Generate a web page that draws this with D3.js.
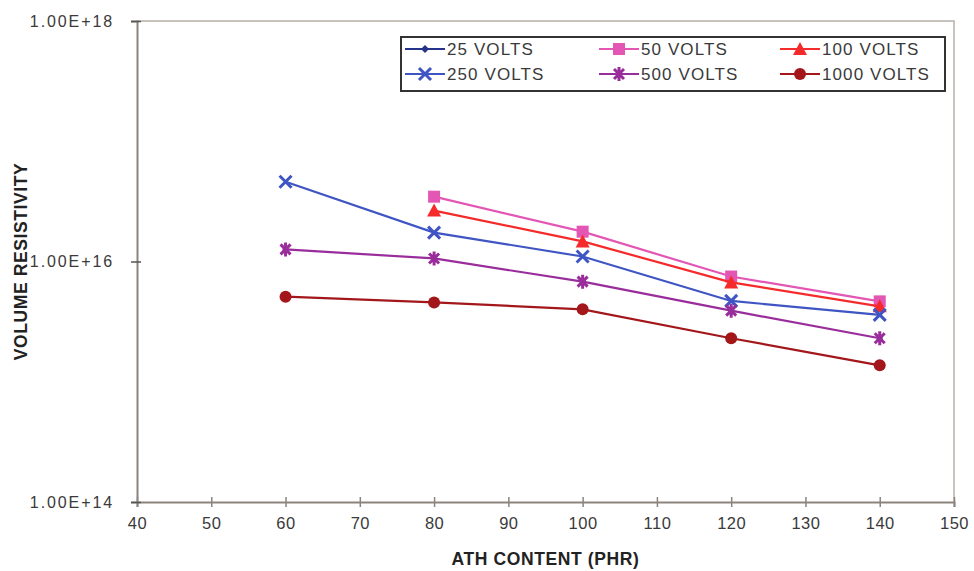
<!DOCTYPE html>
<html>
<head>
<meta charset="utf-8">
<script src="https://cdn.jsdelivr.net/npm/d3@7"></script>
<style>
  html, body { margin: 0; padding: 0; background: #fff; }
  svg { display: block; font-family: "Liberation Sans", Arial, sans-serif; }
</style>
</head>
<body>
<svg id="chart" width="974" height="571"></svg>
<script>
// ATH content (phr) on the x axis
const athContent = [60, 80, 100, 120, 140];

// Volume resistivity per test voltage (null = no reading)
const volts25   = [null, null, null, null, null];
const volts50   = [null, 3.46e16, 1.77e16, 7.5e15, 4.66e15];
const volts100  = [null, 2.65e16, 1.47e16, 6.7e15, 4.24e15];
const volts250  = [4.6e16, 1.74e16, 1.1e16, 4.7e15, 3.6e15];
const volts500  = [1.26e16, 1.06e16, 6.8e15, 3.9e15, 2.3e15];
const volts1000 = [5.1e15, 4.57e15, 4.0e15, 2.3e15, 1.37e15];

const seriesNames = ["25 VOLTS", "50 VOLTS", "100 VOLTS", "250 VOLTS", "500 VOLTS", "1000 VOLTS"];
const seriesColors = ["#26338a", "#e456b4", "#f52a2a", "#3f55c4", "#9a2d9c", "#a3171b"];
const seriesMarkers = ["diamond", "square", "triangle", "cross", "star", "circle"];
const seriesValues = [volts25, volts50, volts100, volts250, volts500, volts1000];

const xTicks = [40, 50, 60, 70, 80, 90, 100, 110, 120, 130, 140, 150];
const yTicks = [1e14, 1e16, 1e18];
const yTickLabels = ["1.00E+14", "1.00E+16", "1.00E+18"];

const svg = d3.select("#chart");
const plot = { left: 137, right: 954, top: 21, bottom: 502 };

const x = d3.scaleLinear().domain([40, 150]).range([plot.left, plot.right]);
const y = d3.scaleLog().domain([1e14, 1e18]).range([plot.bottom, plot.top]);

const axisColor = "#8c847c";
const textColor = "#3a3a3a";

// plot frame (top and right edges)
svg.append("path")
  .attr("d", `M${plot.left},${plot.top}H${plot.right}V${plot.bottom}`)
  .attr("fill", "none").attr("stroke", "#b8b0a8").attr("stroke-width", 1.5);

// x axis
const xAxis = svg.append("g")
  .attr("transform", `translate(0,${plot.bottom})`)
  .call(d3.axisBottom(x).tickValues(xTicks).tickSize(5).tickPadding(10).tickFormat(d3.format("d")));
xAxis.select(".domain").attr("stroke", axisColor).attr("stroke-width", 2);
xAxis.selectAll(".tick line").attr("stroke", axisColor).attr("stroke-width", 1.5).attr("y1", -5);
xAxis.selectAll(".tick text").attr("font-size", 16.5).attr("letter-spacing", 0.5).attr("fill", textColor);

// y axis
const yAxis = svg.append("g")
  .attr("transform", `translate(${plot.left},0)`)
  .call(d3.axisLeft(y).tickValues(yTicks).tickSize(6).tickPadding(17)
    .tickFormat((d, i) => yTickLabels[i]));
yAxis.select(".domain").attr("stroke", axisColor).attr("stroke-width", 2);
yAxis.selectAll(".tick line").attr("stroke", "#555").attr("stroke-width", 1.5).attr("x1", -6).attr("x2", 4);
yAxis.selectAll(".tick text").attr("font-size", 16).attr("letter-spacing", 1.9).attr("fill", textColor);

// axis titles
svg.append("text")
  .attr("x", (plot.left + plot.right) / 2).attr("y", 565)
  .attr("text-anchor", "middle").attr("font-size", 17.5).attr("font-weight", "bold")
  .attr("letter-spacing", 0.6).attr("fill", "#222")
  .text("ATH CONTENT (PHR)");
svg.append("text")
  .attr("transform", `translate(27,${(plot.top + plot.bottom) / 2}) rotate(-90)`)
  .attr("text-anchor", "middle").attr("font-size", 17.5).attr("font-weight", "bold")
  .attr("letter-spacing", 0.6).attr("fill", "#222")
  .text("VOLUME RESISTIVITY");

// marker shapes
function drawMarker(g, type, color) {
  if (type === "diamond") {
    g.append("path").attr("d", "M0,-4L4,0L0,4L-4,0Z").attr("fill", color);
  } else if (type === "square") {
    g.append("rect").attr("x", -6).attr("y", -6).attr("width", 12).attr("height", 12).attr("fill", color);
  } else if (type === "triangle") {
    g.append("path").attr("d", "M0,-7L7,6L-7,6Z").attr("fill", color);
  } else if (type === "cross") {
    g.append("path").attr("d", "M-6,-6L6,6M-6,6L6,-6").attr("stroke", color).attr("stroke-width", 3);
  } else if (type === "star") {
    g.append("path").attr("d", "M-5,-5L5,5M-5,5L5,-5M0,-7V7").attr("stroke", color).attr("stroke-width", 3);
    g.append("rect").attr("x", -3).attr("y", -3).attr("width", 6).attr("height", 6).attr("fill", color);
  } else if (type === "circle") {
    g.append("circle").attr("r", 6).attr("fill", color);
  }
}

// series lines and markers
const line = d3.line()
  .defined(d => d.v != null)
  .x(d => x(d.x)).y(d => y(d.v));

seriesValues.forEach((vals, i) => {
  const pts = athContent.map((xv, j) => ({ x: xv, v: vals[j] }));
  const g = svg.append("g");
  g.append("path").datum(pts).attr("d", line)
    .attr("fill", "none").attr("stroke", seriesColors[i]).attr("stroke-width", 2.2);
  pts.filter(p => p.v != null).forEach(p => {
    const m = g.append("g").attr("transform", `translate(${x(p.x)},${y(p.v)})`);
    drawMarker(m, seriesMarkers[i], seriesColors[i]);
  });
});

// legend
const legend = svg.append("g");
legend.append("rect")
  .attr("x", 401).attr("y", 37).attr("width", 544).attr("height", 54)
  .attr("fill", "#fff").attr("stroke", "#333").attr("stroke-width", 2);
const colX = [405, 599, 780];
const rowY = [49, 74];
seriesNames.forEach((name, i) => {
  const cx = colX[i % 3], cy = rowY[Math.floor(i / 3)];
  const item = legend.append("g").attr("transform", `translate(${cx},${cy})`);
  item.append("line").attr("x1", 0).attr("x2", 40).attr("stroke", seriesColors[i]).attr("stroke-width", 2.2);
  drawMarker(item.append("g").attr("transform", "translate(20,0)"), seriesMarkers[i], seriesColors[i]);
  item.append("text").attr("x", 42).attr("y", 6).attr("font-size", 17).attr("letter-spacing", 1.1)
    .attr("fill", textColor).text(name);
});
</script>
</body>
</html>
